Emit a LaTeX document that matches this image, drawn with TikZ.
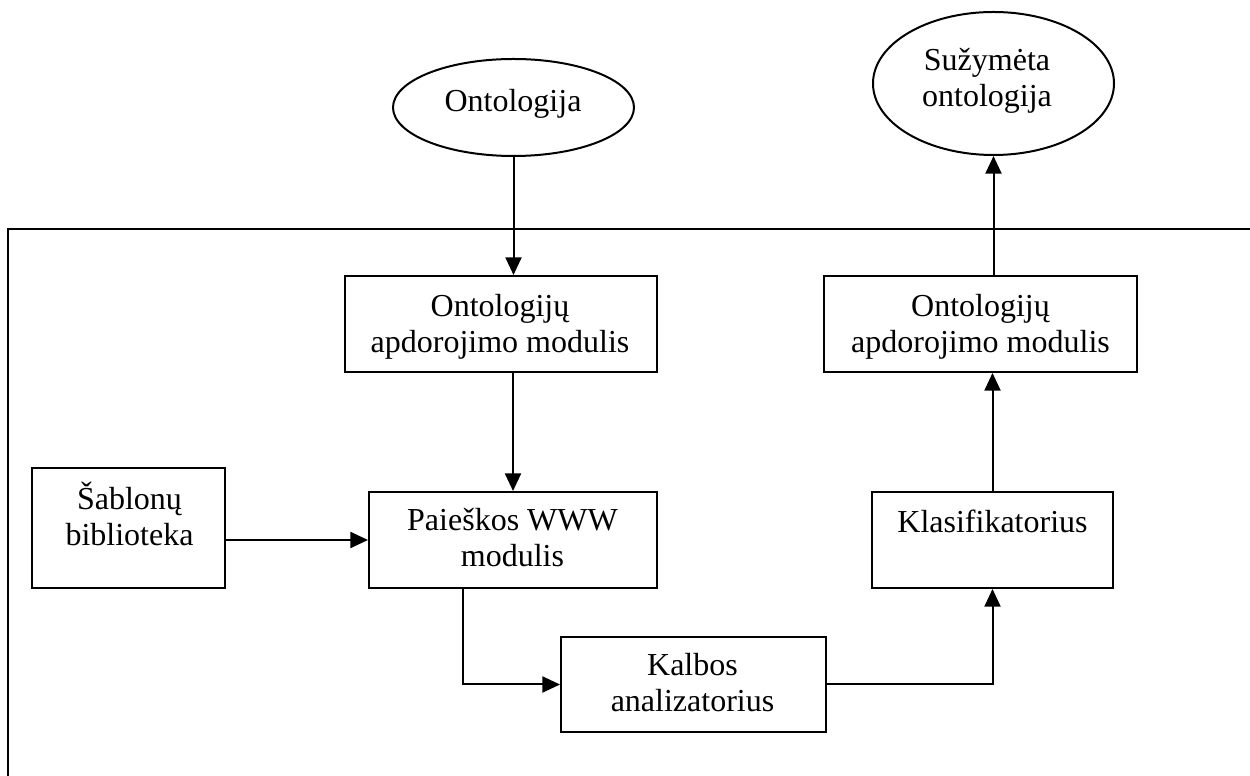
\documentclass[tikz,border=0pt]{standalone}
\usepackage{fontspec}
\setmainfont{Liberation Serif}
\usetikzlibrary{shapes.geometric,arrows.meta,calc}

\begin{document}
\begin{tikzpicture}[
  x=0.375pt, y=-0.375pt,
  line width=0.75pt,
  blok/.style={draw, rectangle, inner sep=0pt},
  ovalas/.style={draw, ellipse, inner sep=0pt},
  % text labels are placed by the baseline of their last line
  tekstas/.style={inner sep=0pt, anchor=base, align=center,
    font=\fontsize{12}{13.8}\selectfont},
  rodykle/.style={-{Triangle[length=6.6pt,width=6pt]}}
]
\useasboundingbox (0,0) rectangle (1250,776);
\clip (0,0) rectangle (1250,776);

% system frame (only its left and top sides fall inside the page)
\coordinate (remasLA) at (8,800);
\coordinate (remasVK) at (8,229);
\coordinate (remasVD) at (1270,229);
\draw[line width=0.85pt] (remasLA) -- (remasVK) -- (remasVD);

% input and output ontologies
\node[ovalas, minimum width=241*0.375pt, minimum height=97*0.375pt] (ont) at (513.5,107.5) {};
\node[tekstas] (ontT) at (513,112) {Ontologija};

\node[ovalas, minimum width=241*0.375pt, minimum height=143*0.375pt] (suz) at (993.5,83.5) {};
\node[tekstas] (suzT) at (987,107) {Sužymėta\\ontologija};

% modules
\node[blok, minimum width=312*0.375pt, minimum height=96*0.375pt] (oapd1) at (501,324) {};
\node[tekstas] (oapd1T) at (500,353) {Ontologijų\\apdorojimo modulis};

\node[blok, minimum width=288*0.375pt, minimum height=96*0.375pt] (paieska) at (513,540) {};
\node[tekstas] (paieskaT) at (512.5,567) {Paieškos WWW\\modulis};

\node[blok, minimum width=193*0.375pt, minimum height=120*0.375pt] (sablonai) at (128.5,528) {};
\node[tekstas] (sablonaiT) at (129.5,546) {Šablonų\\biblioteka};

\node[blok, minimum width=313*0.375pt, minimum height=96*0.375pt] (oapd2) at (980.5,324) {};
\node[tekstas] (oapd2T) at (980.5,353) {Ontologijų\\apdorojimo modulis};

\node[blok, minimum width=241*0.375pt, minimum height=96*0.375pt] (klas) at (992.5,540) {};
\node[tekstas] (klasT) at (992.5,533) {Klasifikatorius};

\node[blok, minimum width=265*0.375pt, minimum height=95*0.375pt] (kalba) at (693.5,684.5) {};
\node[tekstas] (kalbaT) at (692.5,712) {Kalbos\\analizatorius};

% data flow
\draw[rodykle] (ont.south) -- (ont.south |- oapd1.north);
\draw[rodykle] (paieska.north |- oapd1.south) -- (paieska.north);
\draw[rodykle] (paieska.west -| sablonai.east) -- (paieska.west);
\coordinate (paieskaIs) at ($(paieska.south west)+(95,0)$);
\draw[rodykle] (paieskaIs) |- (kalba.west);
\draw[rodykle] (kalba.east) -| (klas.south);
\draw[rodykle] (klas.north) -- (klas.north |- oapd2.south);
\draw[rodykle] (oapd2.north -| suz.south) -- (suz.south);
\end{tikzpicture}
\end{document}
